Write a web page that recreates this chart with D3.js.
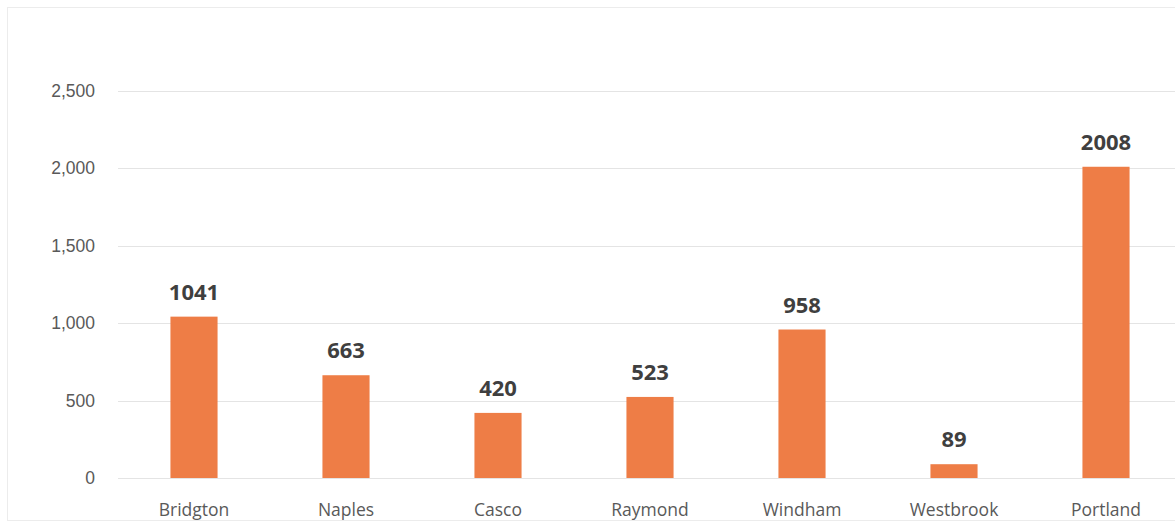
<!DOCTYPE html>
<meta charset="utf-8">
<style>
body { margin: 0; background: #fff; }
svg { display: block; font-family: "Open Sans", Lato, sans-serif; }
.axis text { font-size: 17.5px; fill: #595959; }
.grid line { stroke: #e4e4e4; shape-rendering: crispEdges; }
.grid path { stroke-width: 0; }
.bar { fill: #ee7d46; }
.value { font-size: 22px; font-weight: bold; fill: #3f3f3f; text-anchor: middle; }
.cat { font-size: 17.5px; fill: #595959; text-anchor: middle; }
</style>
<body>
<script src="https://d3js.org/d3.v7.min.js"></script>
<script>

var towns = ["Bridgton", "Naples", "Casco", "Raymond", "Windham", "Westbrook", "Portland"];
var counts = [1041, 663, 420, 523, 958, 89, 2008];
var yTicks = [0, 500, 1000, 1500, 2000, 2500];

var W = 1175, H = 523;
var x0 = 118, x1 = 1182, yBase = 478, yTop = 90.5;

var svg = d3.select("body").append("svg")
    .attr("width", W)
    .attr("height", H);

// faint frame of the scanned chart
svg.append("rect")
    .attr("x", 7.5).attr("y", 7.5)
    .attr("width", W).attr("height", H - 10)
    .attr("fill", "none")
    .attr("stroke", "#ececec");

var x = d3.scaleBand()
    .domain(towns)
    .range([x0, x1])
    .paddingInner(0.69)
    .paddingOuter(0.345);

var y = d3.scaleLinear()
    .domain([0, 2500])
    .range([yBase, yTop]);

svg.append("g")
    .attr("class", "grid")
    .attr("transform", "translate(" + x0 + ",0)")
    .call(d3.axisLeft(y).tickValues(yTicks).tickSize(-(W - x0)).tickFormat(""));

var yAxis = svg.append("g")
    .attr("class", "axis")
    .attr("transform", "translate(" + x0 + ",0)")
    .call(d3.axisLeft(y).tickValues(yTicks).tickSize(0).tickPadding(23).tickFormat(d3.format(",")));
yAxis.select(".domain").remove();

var data = towns.map(function(t, i) { return {town: t, value: counts[i]}; });

svg.selectAll(".bar")
    .data(data)
  .enter().append("rect")
    .attr("class", "bar")
    .attr("x", function(d) { return x(d.town); })
    .attr("width", x.bandwidth())
    .attr("y", function(d) { return y(d.value); })
    .attr("height", function(d) { return yBase - y(d.value); });

svg.selectAll(".value")
    .data(data)
  .enter().append("text")
    .attr("class", "value")
    .attr("x", function(d) { return x(d.town) + x.bandwidth() / 2; })
    .attr("y", function(d) { return y(d.value) - 17; })
    .text(function(d) { return d.value; });

svg.selectAll(".cat")
    .data(towns)
  .enter().append("text")
    .attr("class", "cat")
    .attr("x", function(d) { return x(d) + x.bandwidth() / 2; })
    .attr("y", 516)
    .text(function(d) { return d; });

</script>
